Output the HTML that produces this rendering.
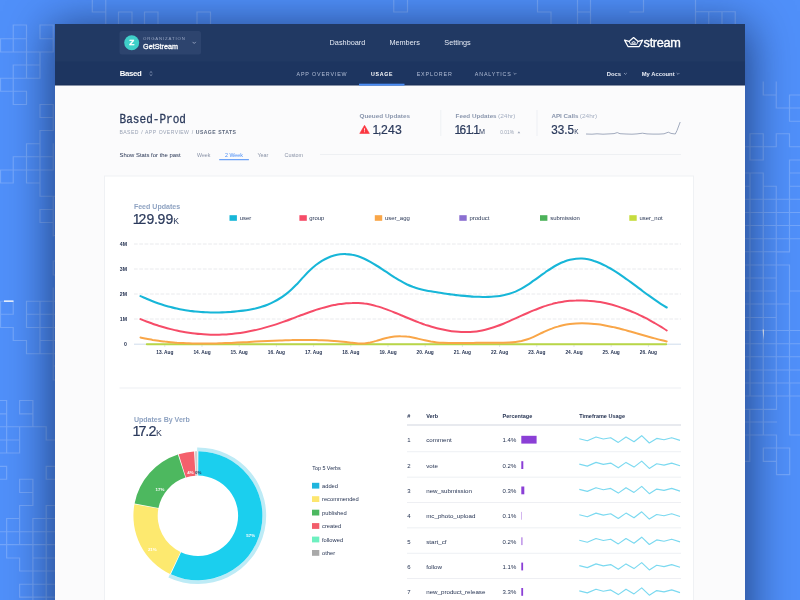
<!DOCTYPE html>
<html>
<head>
<meta charset="utf-8">
<title>Stream Dashboard – Usage</title>
<style>
html,body{margin:0;padding:0;width:800px;height:600px;overflow:hidden;background:#5090fa;}
body{position:relative;font-family:"Liberation Sans",sans-serif;}
#bg{position:absolute;left:0;top:0;width:800px;height:600px;}
#win{position:absolute;left:55px;top:24px;width:690px;height:620px;background:#fbfbfc;box-shadow:0 6px 42px 4px rgba(4,14,45,0.6);}
#ui{position:absolute;left:0;top:0;width:800px;height:600px;}
svg text{font-family:"Liberation Sans",sans-serif;}
</style>
</head>
<body>
<svg id="bg" width="800" height="600" viewBox="0 0 800 600">
<g stroke="#ffffff" stroke-opacity="0.2" stroke-width="1.2" fill="none" stroke-linecap="square">
<path d="M92.3 0L92.3 12M92.3 12L105.75 12M105.75 0L105.75 24M118.5 12L132 12M118.5 25L132 25M118.5 12L118.5 25M132 12L132 25M144.5 12L158 12M144.5 25L158 25M144.5 12L144.5 25M158 12L158 25M197 12L210.5 12M197 25L210.5 25M197 12L197 25M210.5 12L210.5 25M393.75 -1L407.5 -1M393.75 12L407.5 12M393.75 -1L393.75 12M407.5 -1L407.5 12M537.5 0L537.5 12M537.5 12L551 12M551 12L551 24M577.5 0L577.5 24M590.5 0L590.5 24M577.5 12L590.5 12M630 12L643.5 12M643.5 0L643.5 12M695.5 0L695.5 24M695.5 11.75L735.25 11.75M708.75 11.75L708.75 24M722 11.75L722 24M735.25 11.75L735.25 24M13.25 25L26.5 25M13.25 38.75L26.5 38.75M13.25 25L13.25 38.75M26.5 25L26.5 38.75M40 25L53.25 25M40 38.75L53.25 38.75M40 25L40 38.75M53.25 25L53.25 38.75M0 38.75L13.25 38.75M13.25 38.75L13.25 52M0.5 38.75L0.5 52M0 52L53.25 52M53.25 38.75L53.25 52M26.5 38.75L26.5 52M26.5 52L26.5 78.25M40 52L40 78.25M13.25 65L40 65M13.25 65L13.25 78.25M0 78.25L40 78.25M0.5 78.25L0.5 91.25M0 91.25L26.5 91.25M13.25 78.25L13.25 104.5M26.5 91.25L26.5 104.5M13.25 104.5L26.5 104.5M40 104.5L53.25 104.5M40 117.5L53.25 117.5M40 104.5L40 117.5M53.25 104.5L53.25 117.5M53.25 117.5L53.25 130.5M40 130.5L53.25 130.5M40 130.5L40 143.75M26.5 143.75L40 143.75M26.5 143.75L26.5 183M40 143.75L40 170M53.25 143.75L53.25 170M13.25 156.75L53.25 156.75M13.25 156.75L13.25 183M0 170L53.25 170M0 183L13.25 183M26.5 183L40 183M0.5 170L0.5 183M40 170L40 196.25M40 196.25L55 196.25M53.25 196.25L53.25 236M40 209.5L53.25 209.5M40 222.5L53.25 222.5M40 209.5L40 222.5M53.25 209.5L53.25 222.5M53.25 235.5L55 235.5M53.25 261L55 261M53.25 275L55 275M53.25 261L53.25 275M0 301.25L13.25 301.25M13.25 301.25L13.25 314.25M0 314.25L13.25 314.25M0.5 301.25L0.5 327.5M0 327.5L13.25 327.5M13.25 327.5L13.25 340.5M13.25 340.5L26.5 340.5M26.5 340.5L26.5 353.75M26.5 353.75L55 353.75M26.5 301.25L55 301.25M26.5 314.25L55 314.25M26.5 327.5L55 327.5M40 340.5L55 340.5M26.5 301.25L26.5 327.5M40 301.25L40 353.75M53.25 288L53.25 380M53.25 366L55 366M53.25 380L55 380M19.6 400.5L32.9 400.5M19.6 413.8L32.9 413.8M19.6 400.5L19.6 413.8M32.9 400.5L32.9 413.8M0 400.5L6.65 400.5M0 413.8L6.65 413.8M6.65 400.5L6.65 453M32.9 413.8L32.9 426.75M0 426.75L46.2 426.75M46.2 426.75L46.2 440M46.2 440L55 440M19.6 426.75L19.6 453M0 440L19.6 440M0 453L19.6 453M-6 466.3L6.65 466.3M-6 479.25L6.65 479.25M-6 466.3L-6 479.25M6.65 466.3L6.65 479.25M46.2 466.3L60 466.3M46.2 479.25L60 479.25M46.2 466.3L46.2 479.25M60 466.3L60 479.25M19.6 479.25L32.9 479.25M19.6 492.5L32.9 492.5M19.6 479.25L19.6 492.5M32.9 479.25L32.9 492.5M32.9 492.5L32.9 505.5M19.6 505.5L32.9 505.5M19.6 505.5L19.6 518.5M6.65 518.5L19.6 518.5M6.65 518.5L6.65 558M46.2 505.5L60 505.5M46.2 518.5L60 518.5M46.2 505.5L46.2 518.5M60 505.5L60 518.5M46.2 518.5L46.2 600M32.9 518.5L46.2 518.5M32.9 518.5L32.9 600M0 531.75L55 531.75M19.6 518.5L19.6 544.7M0 544.7L55 544.7M6.65 558L19.6 558M19.6 558L19.6 571M19.6 571L55 571M32.9 558L55 558M19.6 584.25L55 584.25M19.6 584.25L19.6 597.2M19.6 597.2L55 597.2M763.25 82L763.25 95M763.25 95L776.25 95M776.25 82L776.25 108M776.25 108L800 108M789.5 95L789.5 121.25M789.5 95L800 95M789.5 121.25L800 121.25M750 133.75L763.25 133.75M750 160L763.25 160M750 133.75L750 160M763.25 133.75L763.25 160M745 146.75L776.25 146.75M776.25 133.75L776.25 146.75M776.25 133.75L789.5 133.75M789.5 133.75L789.5 146.75M789.5 146.75L800 146.75M789.5 160L800 160M789.5 160L789.5 251.75M745 173L763.25 173M763.25 173L763.25 396M750 173L750 396M745 186.25L750 186.25M763.25 186.25L776.25 186.25M776.25 186.25L776.25 396M789.5 173L800 173M789.5 186.25L800 186.25M745 199.25L800 199.25M745 212.5L800 212.5M745 225.5L800 225.5M745 238.75L800 238.75M745 251.75L789.5 251.75M776.25 252L789.5 252M745 265L789.5 265M789.5 265L789.5 396M745 278L776.25 278M745 291L776.25 291M789.5 291L800 291M745 304L789.5 304M745 317.5L776.25 317.5M745 330.5L800 330.5M745 343.75L800 343.75M745 356.75L800 356.75M745 370L800 370M745 383L800 383M745 396L800 396M789.7 383L789.7 435M789.7 435L800 435M749.8 409.3L749.8 461.4M763.3 396L763.3 435M776.5 396L776.5 409.3M745 409.3L776.5 409.3M745 422L776.5 422M745 435L776.5 435M776.5 435L776.5 474.6M763.3 448L776.5 448M763.3 461.4L776.5 461.4M763.3 448L763.3 461.4M776.5 448L776.5 461.4M776.5 448L789.7 448M776.5 474.6L789.7 474.6M776.5 448L776.5 474.6M789.7 448L789.7 474.6M745 461.4L749.8 461.4"/>
</g>
<rect x="4" y="300.4" width="9.5" height="1.5" fill="#ffffff" opacity="0.9"/>
<path d="M762.6 329.5 L764 329.5 L763.6 340 Z" fill="#ffffff" opacity="0.9"/>

</svg>
<div id="win"></div>
<svg id="ui" width="800" height="600" viewBox="0 0 800 600">
<!-- header -->
<rect x="55" y="24" width="690" height="61" fill="#213963"/>
<rect x="55" y="61.6" width="690" height="23.2" fill="#1d3560"/>
<rect x="55" y="84.6" width="690" height="0.9" fill="#192e56"/>
<!-- org switcher -->
<rect x="119.5" y="31" width="81.5" height="23.5" rx="2.5" fill="#2d446e"/>
<circle cx="131.7" cy="42.8" r="7.5" fill="#3fd0c9"/>
<text transform="translate(131.7 45.35) scale(1 0.84)" x="0" y="0" font-size="8.3" font-weight="bold" fill="#ffffff" stroke="#ffffff" stroke-width="0.35" text-anchor="middle">Z</text>
<text x="143" y="39.8" font-size="4.3" fill="#9aa8c4" letter-spacing="0.85">ORGANIZATION</text>
<text x="143.1" y="48.8" font-size="7.9" fill="#ffffff" stroke="#ffffff" stroke-width="0.3" textLength="34.8" lengthAdjust="spacingAndGlyphs">GetStream</text>
<path d="M192.6 41.9 L194.2 43.5 L195.8 41.9" fill="none" stroke="#97a5c2" stroke-width="0.9"/>
<!-- top nav -->
<text x="329.6" y="45" font-size="7.3" fill="#e6ebf5">Dashboard</text>
<text x="389.4" y="45" font-size="7.3" fill="#e6ebf5">Members</text>
<text x="444.3" y="45" font-size="7.3" fill="#e6ebf5">Settings</text>
<!-- logo -->
<g fill="none" stroke="#ffffff" stroke-linejoin="round" stroke-linecap="round">
<path stroke-width="1.25" d="M624.6 40.1 L629 41.4 L633.6 37.6 L638.2 41.4 L642.6 40.1 L639.2 46.5 L628 46.5 Z"/>
<path stroke-width="0.9" d="M629 41.4 L630.6 44.4 L636.6 44.4 L638.2 41.4"/>
<path stroke-width="0.9" d="M631.9 42.9 L633.6 41 L635.3 42.9 Z"/>
</g>
<text x="643.6" y="46.8" font-size="12.7" fill="#ffffff" stroke="#ffffff" stroke-width="0.35" letter-spacing="-0.3">stream</text>
<!-- sub nav -->
<text x="119.8" y="76" font-size="7.8" font-weight="bold" fill="#ffffff" letter-spacing="-0.35">Based</text>
<path d="M149.7 72.8 L151 71.6 L152.3 72.8 M149.7 74.4 L151 75.6 L152.3 74.4" fill="none" stroke="#9aa8c6" stroke-width="0.75"/>
<text x="296.5" y="75.7" font-size="5.35" fill="#b2bed6" letter-spacing="0.85">APP OVERVIEW</text>
<text x="371" y="75.7" font-size="5.25" font-weight="bold" fill="#ffffff" letter-spacing="0.7">USAGE</text>
<text x="416.7" y="75.7" font-size="5.35" fill="#b2bed6" letter-spacing="0.85">EXPLORER</text>
<text x="474.8" y="75.7" font-size="5.35" fill="#b2bed6" letter-spacing="0.85">ANALYTICS</text>
<path d="M513.6 73 L515 74.4 L516.4 73" fill="none" stroke="#a9b6d0" stroke-width="0.7"/>
<rect x="359" y="83.7" width="45.5" height="1.9" fill="#4a8df6"/>
<text x="606.8" y="76" font-size="5.85" font-weight="bold" fill="#e9edf6">Docs</text>
<path d="M624 73 L625.4 74.4 L626.8 73" fill="none" stroke="#a9b6d0" stroke-width="0.7"/>
<text x="641.7" y="76" font-size="5.85" font-weight="bold" fill="#e9edf6">My Account</text>
<path d="M676.6 73 L678 74.4 L679.4 73" fill="none" stroke="#a9b6d0" stroke-width="0.7"/>

<!-- page title -->
<text x="119.6" y="123.4" font-size="13.7" fill="#2b3a5c" stroke="#2b3a5c" stroke-width="0.3" textLength="66.4" lengthAdjust="spacingAndGlyphs" style="font-family:'Liberation Mono',monospace">Based-Prod</text>
<text x="119.5" y="134.1" font-size="5.1" fill="#9aa3b5" letter-spacing="0.41" word-spacing="0.5">BASED / APP OVERVIEW / <tspan font-weight="bold" fill="#5d687e">USAGE STATS</tspan></text>
<text x="119.5" y="157.2" font-size="6.2" fill="#1f2d4d" textLength="61.2" lengthAdjust="spacingAndGlyphs">Show Stats for the past</text>
<text x="197" y="156.8" font-size="5.3" fill="#8992a6">Week</text>
<text x="225" y="156.8" font-size="5.3" fill="#4a8df6">2 Week</text>
<rect x="219.2" y="159.2" width="29.7" height="1" fill="#4a8df6"/>
<text x="257.5" y="156.8" font-size="5.4" fill="#8992a6">Year</text>
<text x="284.5" y="156.8" font-size="5.4" fill="#8992a6">Custom</text>
<rect x="320" y="154" width="361" height="1" fill="#eef0f3"/>
<!-- stats -->
<text x="359.5" y="118.4" font-size="6.2" font-weight="bold" fill="#8a96ad" textLength="50.5" lengthAdjust="spacingAndGlyphs">Queued Updates</text>
<path d="M364.55 125.3 L369.35 133.45 L359.75 133.45 Z" fill="#fb3640" stroke="#fb3640" stroke-width="0.6" stroke-linejoin="round"/>
<rect x="364.1" y="128.3" width="0.9" height="2.3" fill="#fff" opacity="0.9"/><rect x="364.1" y="131.3" width="0.9" height="0.9" fill="#fff" opacity="0.9"/>
<text x="372.6 377.9 381.1 388 395" y="133.8" font-size="12.2" fill="#2b3a5c" stroke="#2b3a5c" stroke-width="0.22">1,243</text>
<rect x="440.4" y="110" width="0.8" height="26" fill="#eceef2"/>
<text x="455.6" y="118.4" font-size="6.2" font-weight="bold" fill="#8a96ad" textLength="41" lengthAdjust="spacingAndGlyphs">Feed Updates</text>
<text x="498" y="118.4" font-size="6" fill="#a5afc2" textLength="17.4" lengthAdjust="spacingAndGlyphs">(24hr)</text>
<text x="454.4 459.6 465.8 471 473.3" y="133.8" font-size="11.9" fill="#2b3a5c" stroke="#2b3a5c" stroke-width="0.22">161.1</text>
<text x="479" y="133.8" font-size="7.2" fill="#2b3a5c">M</text>
<text x="500.3" y="134" font-size="4.8" fill="#9aa3b5">0.01%</text>
<path d="M517.6 133.3 L518.9 131.2 L520.2 133.3 Z" fill="#9aa3b5"/>
<rect x="536.6" y="110" width="0.8" height="26" fill="#eceef2"/>
<text x="551.4" y="118.4" font-size="6.2" font-weight="bold" fill="#8a96ad" textLength="27" lengthAdjust="spacingAndGlyphs">API Calls</text>
<text x="579.8" y="118.4" font-size="6" fill="#a5afc2" textLength="17.4" lengthAdjust="spacingAndGlyphs">(24hr)</text>
<text x="551.2" y="133.8" font-size="11.9" fill="#2b3a5c" stroke="#2b3a5c" stroke-width="0.22" textLength="22.8" lengthAdjust="spacingAndGlyphs">33.5</text>
<text x="574.2" y="133.8" font-size="6.4" fill="#2b3a5c">K</text>
<polyline fill="none" stroke="#8a96ad" stroke-width="0.8" stroke-linejoin="round" points="586,134 592,134.2 597,133.8 603,134.2 609,133.9 614,133.6 617.3,132.6 620,133.7 626,134 632,134.2 637,133.9 642.5,133.2 647,133.9 653,134.1 659,134.1 664,133.8 668.3,132.2 671,133.4 675.3,134 677,130.5 680.2,122"/>
<!-- main card -->
<rect x="104.5" y="176" width="589" height="440" fill="#ffffff" stroke="#eff1f4" stroke-width="1"/>
<text x="133.9" y="208.7" font-size="7.2" font-weight="bold" fill="#8fa3c2" textLength="46.2" lengthAdjust="spacingAndGlyphs">Feed Updates</text>
<text x="132.7 138.6 146.45 154.1 157.45 165.45" y="223.6" font-size="14" fill="#2b3a5c" stroke="#2b3a5c" stroke-width="0.22">129.99</text>
<text x="173.2" y="223.6" font-size="8.6" fill="#2b3a5c">K</text>
<rect x="229.5" y="215.2" width="7.4" height="5.6" fill="#17b6d8"/>
<text x="239.7" y="220" font-size="5.95" fill="#1f2d4d">user</text>
<rect x="299.4" y="215.2" width="7.4" height="5.6" fill="#f64c68"/>
<text x="309.2" y="220" font-size="5.95" fill="#1f2d4d">group</text>
<rect x="374.8" y="215.2" width="7.4" height="5.6" fill="#f9a648"/>
<text x="385.0" y="220" font-size="5.95" fill="#1f2d4d">user_agg</text>
<rect x="459.3" y="215.2" width="7.4" height="5.6" fill="#8b6fd1"/>
<text x="469.5" y="220" font-size="5.95" fill="#1f2d4d">product</text>
<rect x="540" y="215.2" width="7.4" height="5.6" fill="#4cb25a"/>
<text x="550.2" y="220" font-size="5.95" fill="#1f2d4d">submission</text>
<rect x="629.3" y="215.2" width="7.4" height="5.6" fill="#c6dc3e"/>
<text x="639.5" y="220" font-size="5.95" fill="#1f2d4d">user_not</text>
<text x="127" y="246.3" font-size="5.2" font-weight="bold" fill="#1f2d4d" text-anchor="end">4M</text>
<line x1="134" y1="244" x2="681" y2="244" stroke="#e3e4e8" stroke-width="0.8" stroke-dasharray="3.7 1.6"/>
<text x="127" y="271.3" font-size="5.2" font-weight="bold" fill="#1f2d4d" text-anchor="end">3M</text>
<line x1="134" y1="269" x2="681" y2="269" stroke="#e3e4e8" stroke-width="0.8" stroke-dasharray="3.7 1.6"/>
<text x="127" y="296.3" font-size="5.2" font-weight="bold" fill="#1f2d4d" text-anchor="end">2M</text>
<line x1="134" y1="294" x2="681" y2="294" stroke="#e3e4e8" stroke-width="0.8" stroke-dasharray="3.7 1.6"/>
<text x="127" y="321.3" font-size="5.2" font-weight="bold" fill="#1f2d4d" text-anchor="end">1M</text>
<line x1="134" y1="319" x2="681" y2="319" stroke="#e3e4e8" stroke-width="0.8" stroke-dasharray="3.7 1.6"/>
<text x="127" y="346.3" font-size="5.2" font-weight="bold" fill="#1f2d4d" text-anchor="end">0</text>
<line x1="134" y1="344.2" x2="681" y2="344.2" stroke="#cfdcec" stroke-width="1"/>
<line x1="164.8" y1="344.5" x2="164.8" y2="347" stroke="#d5dbe6" stroke-width="0.7"/>
<text x="164.8" y="353.8" font-size="4.8" font-weight="bold" fill="#1f2d4d" text-anchor="middle">13. Aug</text>
<line x1="202.0" y1="344.5" x2="202.0" y2="347" stroke="#d5dbe6" stroke-width="0.7"/>
<text x="202.0" y="353.8" font-size="4.8" font-weight="bold" fill="#1f2d4d" text-anchor="middle">14. Aug</text>
<line x1="239.2" y1="344.5" x2="239.2" y2="347" stroke="#d5dbe6" stroke-width="0.7"/>
<text x="239.2" y="353.8" font-size="4.8" font-weight="bold" fill="#1f2d4d" text-anchor="middle">15. Aug</text>
<line x1="276.4" y1="344.5" x2="276.4" y2="347" stroke="#d5dbe6" stroke-width="0.7"/>
<text x="276.4" y="353.8" font-size="4.8" font-weight="bold" fill="#1f2d4d" text-anchor="middle">16. Aug</text>
<line x1="313.6" y1="344.5" x2="313.6" y2="347" stroke="#d5dbe6" stroke-width="0.7"/>
<text x="313.6" y="353.8" font-size="4.8" font-weight="bold" fill="#1f2d4d" text-anchor="middle">17. Aug</text>
<line x1="350.8" y1="344.5" x2="350.8" y2="347" stroke="#d5dbe6" stroke-width="0.7"/>
<text x="350.8" y="353.8" font-size="4.8" font-weight="bold" fill="#1f2d4d" text-anchor="middle">18. Aug</text>
<line x1="388.0" y1="344.5" x2="388.0" y2="347" stroke="#d5dbe6" stroke-width="0.7"/>
<text x="388.0" y="353.8" font-size="4.8" font-weight="bold" fill="#1f2d4d" text-anchor="middle">19. Aug</text>
<line x1="425.2" y1="344.5" x2="425.2" y2="347" stroke="#d5dbe6" stroke-width="0.7"/>
<text x="425.2" y="353.8" font-size="4.8" font-weight="bold" fill="#1f2d4d" text-anchor="middle">20. Aug</text>
<line x1="462.4" y1="344.5" x2="462.4" y2="347" stroke="#d5dbe6" stroke-width="0.7"/>
<text x="462.4" y="353.8" font-size="4.8" font-weight="bold" fill="#1f2d4d" text-anchor="middle">21. Aug</text>
<line x1="499.6" y1="344.5" x2="499.6" y2="347" stroke="#d5dbe6" stroke-width="0.7"/>
<text x="499.6" y="353.8" font-size="4.8" font-weight="bold" fill="#1f2d4d" text-anchor="middle">22. Aug</text>
<line x1="536.8" y1="344.5" x2="536.8" y2="347" stroke="#d5dbe6" stroke-width="0.7"/>
<text x="536.8" y="353.8" font-size="4.8" font-weight="bold" fill="#1f2d4d" text-anchor="middle">23. Aug</text>
<line x1="574.0" y1="344.5" x2="574.0" y2="347" stroke="#d5dbe6" stroke-width="0.7"/>
<text x="574.0" y="353.8" font-size="4.8" font-weight="bold" fill="#1f2d4d" text-anchor="middle">24. Aug</text>
<line x1="611.2" y1="344.5" x2="611.2" y2="347" stroke="#d5dbe6" stroke-width="0.7"/>
<text x="611.2" y="353.8" font-size="4.8" font-weight="bold" fill="#1f2d4d" text-anchor="middle">25. Aug</text>
<line x1="648.4" y1="344.5" x2="648.4" y2="347" stroke="#d5dbe6" stroke-width="0.7"/>
<text x="648.4" y="353.8" font-size="4.8" font-weight="bold" fill="#1f2d4d" text-anchor="middle">26. Aug</text>
<line x1="146.8" y1="344.3" x2="666.2" y2="344.3" stroke="#b9d647" stroke-width="2" stroke-linecap="round"/>
<path d="M140.5 337.5 C141.5 337.7 144.5 338.4 146.5 338.8 C148.6 339.2 150.6 339.5 152.6 339.9 C154.6 340.2 156.6 340.5 158.6 340.8 C160.7 341.1 162.7 341.3 164.7 341.6 C166.7 341.8 168.7 342.0 170.7 342.2 C172.8 342.4 174.8 342.5 176.8 342.7 C178.8 342.8 180.8 343.0 182.8 343.1 C184.9 343.2 186.9 343.3 188.9 343.3 C190.9 343.4 192.9 343.5 194.9 343.5 C197.0 343.5 199.0 343.6 201.0 343.6 C203.0 343.6 205.0 343.6 207.0 343.6 C209.0 343.5 211.1 343.5 213.1 343.5 C215.1 343.4 217.1 343.4 219.1 343.3 C221.1 343.3 223.2 343.2 225.2 343.1 C227.2 343.0 229.2 343.0 231.2 342.9 C233.2 342.8 235.3 342.7 237.3 342.6 C239.3 342.5 241.3 342.4 243.3 342.3 C245.3 342.2 247.4 342.1 249.4 341.9 C251.4 341.8 253.4 341.7 255.4 341.6 C257.4 341.5 259.4 341.4 261.5 341.3 C263.5 341.2 265.5 341.1 267.5 341.0 C269.5 340.9 271.5 340.8 273.6 340.7 C275.6 340.6 277.6 340.5 279.6 340.4 C281.6 340.4 283.6 340.3 285.7 340.2 C287.7 340.2 289.7 340.1 291.7 340.1 C293.7 340.0 295.7 340.0 297.8 340.0 C299.8 339.9 301.8 339.9 303.8 339.9 C305.8 339.9 307.8 339.9 309.9 340.0 C311.9 340.0 313.9 340.1 315.9 340.1 C317.9 340.2 319.9 340.2 321.9 340.3 C324.0 340.4 326.0 340.5 328.0 340.6 C330.0 340.8 332.0 340.9 334.0 341.0 C336.1 341.2 338.1 341.4 340.1 341.5 C342.1 341.7 344.1 341.9 346.1 342.1 C348.2 342.3 350.2 342.6 352.2 342.8 C354.2 343.0 356.2 343.3 358.2 343.4 C360.3 343.5 362.3 343.5 364.3 343.4 C366.3 343.2 368.3 342.9 370.3 342.5 C372.4 342.0 374.4 341.4 376.4 340.9 C378.4 340.3 380.4 339.6 382.4 339.0 C384.4 338.4 386.5 337.9 388.5 337.5 C390.5 337.0 392.5 336.7 394.5 336.5 C396.5 336.3 398.6 336.1 400.6 336.2 C402.6 336.2 404.6 336.3 406.6 336.6 C408.6 336.8 410.7 337.2 412.7 337.6 C414.7 338.0 416.7 338.4 418.7 338.9 C420.7 339.4 422.8 339.9 424.8 340.3 C426.8 340.8 428.8 341.2 430.8 341.6 C432.8 341.9 434.8 342.2 436.9 342.4 C438.9 342.6 440.9 342.7 442.9 342.8 C444.9 342.9 446.9 342.9 449.0 342.9 C451.0 343.0 453.0 343.0 455.0 343.0 C457.0 343.0 459.0 343.0 461.1 343.0 C463.1 343.0 465.1 343.0 467.1 343.0 C469.1 342.9 471.1 342.9 473.2 342.9 C475.2 342.9 477.2 342.8 479.2 342.8 C481.2 342.8 483.2 342.8 485.3 342.8 C487.3 342.8 489.3 342.8 491.3 342.8 C493.3 342.8 495.3 342.9 497.3 342.8 C499.4 342.8 501.4 342.8 503.4 342.8 C505.4 342.7 507.4 342.6 509.4 342.5 C511.5 342.4 513.5 342.2 515.5 341.9 C517.5 341.7 519.5 341.4 521.5 341.0 C523.6 340.5 525.6 340.0 527.6 339.3 C529.6 338.6 531.6 337.7 533.6 336.8 C535.7 335.9 537.7 334.9 539.7 333.9 C541.7 333.0 543.7 332.0 545.7 331.1 C547.8 330.2 549.8 329.3 551.8 328.6 C553.8 327.8 555.8 327.1 557.8 326.6 C559.8 326.0 561.9 325.5 563.9 325.0 C565.9 324.6 567.9 324.3 569.9 324.0 C571.9 323.7 574.0 323.5 576.0 323.4 C578.0 323.3 580.0 323.2 582.0 323.2 C584.0 323.2 586.1 323.3 588.1 323.4 C590.1 323.5 592.1 323.6 594.1 323.9 C596.1 324.1 598.2 324.3 600.2 324.6 C602.2 324.9 604.2 325.3 606.2 325.7 C608.2 326.1 610.2 326.5 612.3 326.9 C614.3 327.4 616.3 327.8 618.3 328.3 C620.3 328.8 622.3 329.4 624.4 329.9 C626.4 330.4 628.4 331.0 630.4 331.5 C632.4 332.1 634.4 332.7 636.5 333.3 C638.5 333.8 640.5 334.4 642.5 335.0 C644.5 335.6 646.5 336.2 648.6 336.7 C650.6 337.3 652.6 337.9 654.6 338.4 C656.6 338.9 658.6 339.5 660.7 340.0 C662.7 340.5 665.7 341.2 666.7 341.4" fill="none" stroke="#f9a648" stroke-width="2" stroke-linecap="round"/>
<path d="M140.5 319.1 C141.5 319.5 144.5 320.7 146.5 321.5 C148.6 322.2 150.6 323.0 152.6 323.7 C154.6 324.4 156.6 325.0 158.6 325.7 C160.7 326.3 162.7 326.9 164.7 327.5 C166.7 328.1 168.7 328.6 170.7 329.1 C172.8 329.6 174.8 330.1 176.8 330.5 C178.8 331.0 180.8 331.4 182.8 331.7 C184.9 332.1 186.9 332.4 188.9 332.7 C190.9 333.0 192.9 333.3 194.9 333.5 C197.0 333.8 199.0 334.0 201.0 334.1 C203.0 334.3 205.0 334.4 207.0 334.5 C209.0 334.6 211.1 334.7 213.1 334.7 C215.1 334.7 217.1 334.7 219.1 334.7 C221.1 334.6 223.2 334.6 225.2 334.5 C227.2 334.3 229.2 334.2 231.2 334.0 C233.2 333.8 235.3 333.6 237.3 333.3 C239.3 333.1 241.3 332.8 243.3 332.4 C245.3 332.1 247.4 331.7 249.4 331.3 C251.4 330.9 253.4 330.5 255.4 330.1 C257.4 329.6 259.4 329.1 261.5 328.6 C263.5 328.1 265.5 327.5 267.5 326.9 C269.5 326.3 271.5 325.7 273.6 325.1 C275.6 324.5 277.6 323.8 279.6 323.1 C281.6 322.4 283.6 321.7 285.7 321.0 C287.7 320.3 289.7 319.5 291.7 318.7 C293.7 318.0 295.7 317.2 297.8 316.4 C299.8 315.7 301.8 314.9 303.8 314.2 C305.8 313.4 307.8 312.7 309.9 312.0 C311.9 311.3 313.9 310.6 315.9 309.9 C317.9 309.3 319.9 308.7 321.9 308.1 C324.0 307.5 326.0 307.0 328.0 306.5 C330.0 306.0 332.0 305.5 334.0 305.1 C336.1 304.7 338.1 304.3 340.1 304.0 C342.1 303.8 344.1 303.5 346.1 303.3 C348.2 303.2 350.2 303.0 352.2 303.0 C354.2 302.9 356.2 303.0 358.2 303.1 C360.3 303.2 362.3 303.3 364.3 303.6 C366.3 303.8 368.3 304.2 370.3 304.6 C372.4 305.0 374.4 305.5 376.4 306.1 C378.4 306.6 380.4 307.2 382.4 307.9 C384.4 308.6 386.5 309.3 388.5 310.1 C390.5 310.8 392.5 311.6 394.5 312.5 C396.5 313.3 398.6 314.1 400.6 315.0 C402.6 315.8 404.6 316.7 406.6 317.5 C408.6 318.3 410.7 319.2 412.7 320.0 C414.7 320.8 416.7 321.6 418.7 322.4 C420.7 323.1 422.8 323.9 424.8 324.6 C426.8 325.2 428.8 325.9 430.8 326.5 C432.8 327.1 434.8 327.7 436.9 328.2 C438.9 328.7 440.9 329.2 442.9 329.6 C444.9 330.0 446.9 330.4 449.0 330.7 C451.0 331.1 453.0 331.3 455.0 331.5 C457.0 331.7 459.0 331.9 461.1 332.0 C463.1 332.1 465.1 332.1 467.1 332.0 C469.1 332.0 471.1 331.9 473.2 331.7 C475.2 331.5 477.2 331.3 479.2 330.9 C481.2 330.6 483.2 330.2 485.3 329.7 C487.3 329.2 489.3 328.7 491.3 328.0 C493.3 327.4 495.3 326.7 497.3 326.0 C499.4 325.3 501.4 324.5 503.4 323.7 C505.4 322.9 507.4 322.0 509.4 321.1 C511.5 320.2 513.5 319.3 515.5 318.4 C517.5 317.5 519.5 316.6 521.5 315.7 C523.6 314.8 525.6 313.9 527.6 313.0 C529.6 312.1 531.6 311.2 533.6 310.4 C535.7 309.6 537.7 308.8 539.7 308.0 C541.7 307.3 543.7 306.5 545.7 305.9 C547.8 305.2 549.8 304.6 551.8 304.1 C553.8 303.5 555.8 303.1 557.8 302.6 C559.8 302.2 561.9 301.9 563.9 301.6 C565.9 301.3 567.9 301.0 569.9 300.8 C571.9 300.7 574.0 300.5 576.0 300.5 C578.0 300.4 580.0 300.4 582.0 300.4 C584.0 300.4 586.1 300.5 588.1 300.7 C590.1 300.8 592.1 301.0 594.1 301.2 C596.1 301.5 598.2 301.8 600.2 302.1 C602.2 302.5 604.2 302.9 606.2 303.3 C608.2 303.8 610.2 304.3 612.3 304.8 C614.3 305.4 616.3 306.0 618.3 306.6 C620.3 307.3 622.3 308.0 624.4 308.7 C626.4 309.4 628.4 310.2 630.4 311.0 C632.4 311.9 634.4 312.7 636.5 313.6 C638.5 314.6 640.5 315.5 642.5 316.5 C644.5 317.5 646.5 318.6 648.6 319.6 C650.6 320.7 652.6 321.9 654.6 323.0 C656.6 324.2 658.6 325.4 660.7 326.6 C662.7 327.9 665.7 329.8 666.7 330.5" fill="none" stroke="#f64c68" stroke-width="2" stroke-linecap="round"/>
<path d="M140.5 296.1 C141.5 296.5 144.5 297.9 146.5 298.8 C148.6 299.7 150.6 300.5 152.6 301.3 C154.6 302.1 156.6 302.8 158.6 303.5 C160.7 304.2 162.7 304.8 164.7 305.4 C166.7 306.0 168.7 306.6 170.7 307.1 C172.8 307.6 174.8 308.1 176.8 308.5 C178.8 309.0 180.8 309.4 182.8 309.7 C184.9 310.1 186.9 310.4 188.9 310.7 C190.9 311.0 192.9 311.2 194.9 311.5 C197.0 311.7 199.0 311.9 201.0 312.0 C203.0 312.1 205.0 312.3 207.0 312.3 C209.0 312.4 211.1 312.5 213.1 312.5 C215.1 312.5 217.1 312.5 219.1 312.5 C221.1 312.4 223.2 312.3 225.2 312.2 C227.2 312.1 229.2 312.0 231.2 311.9 C233.2 311.7 235.3 311.5 237.3 311.3 C239.3 311.1 241.3 310.9 243.3 310.6 C245.3 310.4 247.4 310.1 249.4 309.7 C251.4 309.3 253.4 308.9 255.4 308.5 C257.4 308.0 259.4 307.4 261.5 306.8 C263.5 306.2 265.5 305.5 267.5 304.7 C269.5 303.9 271.5 303.0 273.6 301.9 C275.6 300.9 277.6 299.8 279.6 298.5 C281.6 297.3 283.6 295.9 285.7 294.3 C287.7 292.8 289.7 291.1 291.7 289.2 C293.7 287.4 295.7 285.3 297.8 283.2 C299.8 281.1 301.8 278.7 303.8 276.6 C305.8 274.4 307.8 272.2 309.9 270.3 C311.9 268.4 313.9 266.6 315.9 265.0 C317.9 263.5 319.9 262.1 321.9 260.8 C324.0 259.6 326.0 258.6 328.0 257.7 C330.0 256.8 332.0 256.1 334.0 255.5 C336.1 254.9 338.1 254.5 340.1 254.3 C342.1 254.1 344.1 254.0 346.1 254.1 C348.2 254.1 350.2 254.4 352.2 254.8 C354.2 255.1 356.2 255.7 358.2 256.3 C360.3 257.0 362.3 257.9 364.3 258.8 C366.3 259.7 368.3 260.8 370.3 261.9 C372.4 263.0 374.4 264.2 376.4 265.5 C378.4 266.7 380.4 268.0 382.4 269.3 C384.4 270.7 386.5 272.0 388.5 273.3 C390.5 274.7 392.5 276.0 394.5 277.3 C396.5 278.5 398.6 279.8 400.6 280.9 C402.6 282.1 404.6 283.2 406.6 284.2 C408.6 285.1 410.7 286.0 412.7 286.8 C414.7 287.5 416.7 288.2 418.7 288.7 C420.7 289.3 422.8 289.8 424.8 290.2 C426.8 290.6 428.8 291.0 430.8 291.3 C432.8 291.7 434.8 292.0 436.9 292.3 C438.9 292.6 440.9 293.0 442.9 293.3 C444.9 293.6 446.9 293.8 449.0 294.1 C451.0 294.4 453.0 294.6 455.0 294.9 C457.0 295.1 459.0 295.4 461.1 295.6 C463.1 295.8 465.1 296.0 467.1 296.1 C469.1 296.3 471.1 296.4 473.2 296.6 C475.2 296.7 477.2 296.8 479.2 296.8 C481.2 296.9 483.2 297.0 485.3 297.0 C487.3 296.9 489.3 296.9 491.3 296.8 C493.3 296.7 495.3 296.5 497.3 296.3 C499.4 296.1 501.4 295.7 503.4 295.3 C505.4 294.9 507.4 294.4 509.4 293.8 C511.5 293.2 513.5 292.4 515.5 291.6 C517.5 290.7 519.5 289.7 521.5 288.6 C523.6 287.5 525.6 286.2 527.6 284.9 C529.6 283.6 531.6 282.1 533.6 280.7 C535.7 279.3 537.7 277.8 539.7 276.3 C541.7 274.9 543.7 273.4 545.7 272.0 C547.8 270.6 549.8 269.2 551.8 268.0 C553.8 266.7 555.8 265.5 557.8 264.5 C559.8 263.5 561.9 262.5 563.9 261.8 C565.9 261.0 567.9 260.3 569.9 259.8 C571.9 259.3 574.0 258.9 576.0 258.7 C578.0 258.5 580.0 258.4 582.0 258.5 C584.0 258.6 586.1 258.9 588.1 259.3 C590.1 259.7 592.1 260.2 594.1 260.9 C596.1 261.5 598.2 262.3 600.2 263.2 C602.2 264.1 604.2 265.1 606.2 266.1 C608.2 267.2 610.2 268.4 612.3 269.6 C614.3 270.8 616.3 272.1 618.3 273.4 C620.3 274.8 622.3 276.2 624.4 277.6 C626.4 279.0 628.4 280.5 630.4 281.9 C632.4 283.4 634.4 284.9 636.5 286.4 C638.5 287.9 640.5 289.5 642.5 291.0 C644.5 292.5 646.5 294.0 648.6 295.4 C650.6 296.9 652.6 298.3 654.6 299.7 C656.6 301.1 658.6 302.5 660.7 303.8 C662.7 305.1 665.7 306.9 666.7 307.5" fill="none" stroke="#17b6d8" stroke-width="2.1" stroke-linecap="round"/>
<rect x="119.5" y="387.5" width="561.5" height="1" fill="#eef0f3"/>
<!-- updates by verb -->
<text x="133.9" y="421.6" font-size="7.2" font-weight="bold" fill="#8fa3c2" textLength="56" lengthAdjust="spacingAndGlyphs">Updates By Verb</text>
<text x="132.6 138.4 145.3 148.6" y="436.4" font-size="14.4" fill="#2b3a5c" stroke="#2b3a5c" stroke-width="0.22">17.2</text>
<text x="156.1" y="436.4" font-size="8.8" fill="#2b3a5c">K</text>
<path d="M197.18 447.50 A68.3 68.3 0 1 1 168.39 577.40 L170.03 573.97 A64.5 64.5 0 1 0 197.22 451.30 Z" fill="#bdebf6"/>
<path d="M198.35 451.30 A64.5 64.5 0 1 1 170.85 574.35 L181.04 552.29 A40.2 40.2 0 1 0 198.18 475.60 Z" fill="#1bcfee"/>
<path d="M170.03 573.97 A64.5 64.5 0 0 1 134.44 504.27 L158.35 508.61 A40.2 40.2 0 0 0 180.53 552.05 Z" fill="#fde96f"/>
<path d="M134.61 503.38 A64.5 64.5 0 0 1 177.86 454.49 L185.41 477.59 A40.2 40.2 0 0 0 158.45 508.06 Z" fill="#4db85f"/>
<path d="M178.72 454.22 A64.5 64.5 0 0 1 194.07 451.41 L195.52 475.67 A40.2 40.2 0 0 0 185.95 477.42 Z" fill="#f4606c"/>
<path d="M194.86 451.37 A64.5 64.5 0 0 1 197.34 451.30 L197.55 475.60 A40.2 40.2 0 0 0 196.01 475.64 Z" fill="#cfcfcf"/>
<text x="250.7" y="537.3" font-size="4.4" font-weight="bold" fill="#fff" text-anchor="middle">57%</text>
<text x="152.3" y="550.6" font-size="4.4" font-weight="bold" fill="#fff" text-anchor="middle">21%</text>
<text x="160" y="490.9" font-size="4.4" font-weight="bold" fill="#fff" text-anchor="middle">17%</text>
<text x="190.4" y="473.9" font-size="4.4" font-weight="bold" fill="#fff" text-anchor="middle">4%</text>
<text x="198.2" y="473.9" font-size="4.4" font-weight="bold" fill="#2b3a5c" text-anchor="middle">0%</text>
<text x="312.2" y="470.1" font-size="5.4" fill="#1f2d4d">Top 5 Verbs</text>
<rect x="312" y="482.8" width="7.3" height="5.8" fill="#1fb5dd"/>
<text x="322" y="487.8" font-size="5.75" fill="#1f2d4d">added</text>
<rect x="312" y="496.2" width="7.3" height="5.8" fill="#fde66f"/>
<text x="322" y="501.2" font-size="5.75" fill="#1f2d4d">recommended</text>
<rect x="312" y="509.7" width="7.3" height="5.8" fill="#4cb860"/>
<text x="322" y="514.7" font-size="5.75" fill="#1f2d4d">published</text>
<rect x="312" y="523.1" width="7.3" height="5.8" fill="#f25e6b"/>
<text x="322" y="528.1" font-size="5.75" fill="#1f2d4d">created</text>
<rect x="312" y="536.6" width="7.3" height="5.8" fill="#6ef0c0"/>
<text x="322" y="541.6" font-size="5.75" fill="#1f2d4d">followed</text>
<rect x="312" y="550.0" width="7.3" height="5.8" fill="#a9a9a9"/>
<text x="322" y="555.0" font-size="5.75" fill="#1f2d4d">other</text>
<!-- verbs table -->
<text x="407.2" y="417.6" font-size="5.5" font-weight="bold" fill="#1f2d4d">#</text>
<text x="426.2" y="417.6" font-size="5.5" font-weight="bold" fill="#1f2d4d">Verb</text>
<text x="502.6" y="417.6" font-size="5.5" font-weight="bold" fill="#1f2d4d">Percentage</text>
<text x="579.2" y="417.6" font-size="5.5" font-weight="bold" fill="#1f2d4d">Timeframe Usage</text>
<rect x="407" y="424.3" width="274" height="1.4" fill="#dfe2e8"/>
<text x="407.2" y="442.1" font-size="6" fill="#1f2d4d">1</text>
<text x="426.2" y="442.1" font-size="6.2" fill="#1f2d4d">comment</text>
<text x="502.6" y="442.1" font-size="6" fill="#1f2d4d">1.4%</text>
<rect x="521.3" y="435.8" width="15.3" height="7.8" fill="#8b3fd6" fill-opacity="1"/>
<polyline fill="none" stroke="#7bd9f0" stroke-width="1.15" stroke-linejoin="round" points="579.3,438.7 587.3,440.7 596,437.0 603.3,439.0 610.7,437.7 618.3,442.4 626,437.0 634,441.7 641.7,435.7 649.3,443.0 656.7,438.4 664,439.7 671.7,437.7 680,440.4"/>
<rect x="407" y="451.3" width="274" height="0.9" fill="#eceef2"/>
<text x="407.2" y="467.5" font-size="6" fill="#1f2d4d">2</text>
<text x="426.2" y="467.5" font-size="6.2" fill="#1f2d4d">vote</text>
<text x="502.6" y="467.5" font-size="6" fill="#1f2d4d">0.2%</text>
<rect x="521.3" y="461.2" width="2" height="7.8" fill="#8b3fd6" fill-opacity="1"/>
<polyline fill="none" stroke="#7bd9f0" stroke-width="1.15" stroke-linejoin="round" points="579.3,464.1 587.3,466.1 596,462.4 603.3,464.4 610.7,463.1 618.3,467.8 626,462.4 634,467.1 641.7,461.1 649.3,468.4 656.7,463.8 664,465.1 671.7,463.1 680,465.8"/>
<rect x="407" y="476.7" width="274" height="0.9" fill="#eceef2"/>
<text x="407.2" y="492.8" font-size="6" fill="#1f2d4d">3</text>
<text x="426.2" y="492.8" font-size="6.2" fill="#1f2d4d">new_submission</text>
<text x="502.6" y="492.8" font-size="6" fill="#1f2d4d">0.3%</text>
<rect x="521.3" y="486.5" width="3" height="7.8" fill="#8b3fd6" fill-opacity="1"/>
<polyline fill="none" stroke="#7bd9f0" stroke-width="1.15" stroke-linejoin="round" points="579.3,489.4 587.3,491.4 596,487.7 603.3,489.7 610.7,488.4 618.3,493.1 626,487.7 634,492.4 641.7,486.4 649.3,493.7 656.7,489.1 664,490.4 671.7,488.4 680,491.1"/>
<rect x="407" y="502.0" width="274" height="0.9" fill="#eceef2"/>
<text x="407.2" y="518.2" font-size="6" fill="#1f2d4d">4</text>
<text x="426.2" y="518.2" font-size="6.2" fill="#1f2d4d">mc_photo_upload</text>
<text x="502.6" y="518.2" font-size="6" fill="#1f2d4d">0.1%</text>
<rect x="521.3" y="511.9" width="0.7" height="7.8" fill="#8b3fd6" fill-opacity="0.55"/>
<polyline fill="none" stroke="#7bd9f0" stroke-width="1.15" stroke-linejoin="round" points="579.3,514.8 587.3,516.8 596,513.1 603.3,515.1 610.7,513.8 618.3,518.5 626,513.1 634,517.8 641.7,511.8 649.3,519.1 656.7,514.5 664,515.8 671.7,513.8 680,516.5"/>
<rect x="407" y="527.4" width="274" height="0.9" fill="#eceef2"/>
<text x="407.2" y="543.6" font-size="6" fill="#1f2d4d">5</text>
<text x="426.2" y="543.6" font-size="6.2" fill="#1f2d4d">start_cf</text>
<text x="502.6" y="543.6" font-size="6" fill="#1f2d4d">0.2%</text>
<rect x="521.3" y="537.3" width="1.2" height="7.8" fill="#8b3fd6" fill-opacity="0.7"/>
<polyline fill="none" stroke="#7bd9f0" stroke-width="1.15" stroke-linejoin="round" points="579.3,540.2 587.3,542.2 596,538.5 603.3,540.5 610.7,539.2 618.3,543.9 626,538.5 634,543.2 641.7,537.2 649.3,544.5 656.7,539.9 664,541.2 671.7,539.2 680,541.9"/>
<rect x="407" y="552.8" width="274" height="0.9" fill="#eceef2"/>
<text x="407.2" y="569.0" font-size="6" fill="#1f2d4d">6</text>
<text x="426.2" y="569.0" font-size="6.2" fill="#1f2d4d">follow</text>
<text x="502.6" y="569.0" font-size="6" fill="#1f2d4d">1.1%</text>
<rect x="521.3" y="562.6" width="1.8" height="7.8" fill="#8b3fd6" fill-opacity="1"/>
<polyline fill="none" stroke="#7bd9f0" stroke-width="1.15" stroke-linejoin="round" points="579.3,565.6 587.3,567.6 596,563.9 603.3,565.9 610.7,564.6 618.3,569.3 626,563.9 634,568.6 641.7,562.6 649.3,569.9 656.7,565.3 664,566.6 671.7,564.6 680,567.3"/>
<rect x="407" y="578.1" width="274" height="0.9" fill="#eceef2"/>
<text x="407.2" y="594.3" font-size="6" fill="#1f2d4d">7</text>
<text x="426.2" y="594.3" font-size="6.2" fill="#1f2d4d">new_product_release</text>
<text x="502.6" y="594.3" font-size="6" fill="#1f2d4d">3.3%</text>
<rect x="521.3" y="588.0" width="1.8" height="7.8" fill="#8b3fd6" fill-opacity="1"/>
<polyline fill="none" stroke="#7bd9f0" stroke-width="1.15" stroke-linejoin="round" points="579.3,590.9 587.3,592.9 596,589.2 603.3,591.2 610.7,589.9 618.3,594.6 626,589.2 634,593.9 641.7,587.9 649.3,595.2 656.7,590.6 664,591.9 671.7,589.9 680,592.6"/>

</svg>
</body>
</html>
